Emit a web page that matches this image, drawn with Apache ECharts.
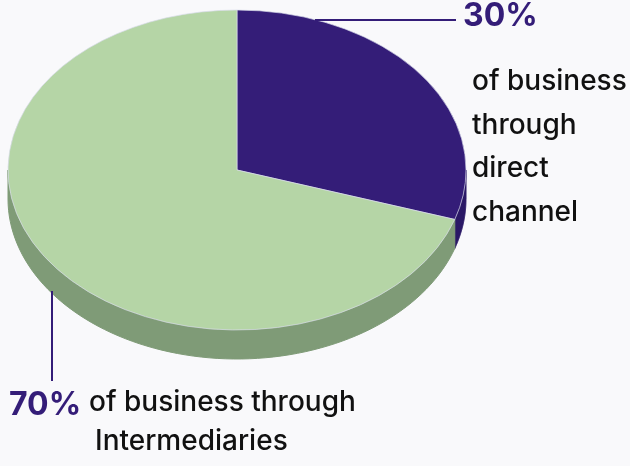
<!DOCTYPE html>
<html>
<head>
<meta charset="utf-8">
<script src="https://cdn.jsdelivr.net/npm/echarts@6/dist/echarts.min.js"></script>
<style>
  html, body { margin: 0; padding: 0; background: #f9f9fb; }
  #chart { width: 630px; height: 466px; }
</style>
</head>
<body>
<div id="chart"></div>
<script>
// data
const categories = ['Direct channel', 'Intermediaries']
const values = [30, 70]
const labels = ['of business\nthrough\ndirect\nchannel', 'of business through\nIntermediaries']
const topColors = ['#341d78', '#b5d5a6']
const sideColors = ['#2a1866', '#7f9b77']

// pie geometry (ellipse)
const cx = 237
const cy = 170
const rx = 229
const ry = 160
const depth = 29

const total = values.reduce((a, b) => a + b, 0)
// start / end angles (canvas radians, clockwise from 12 o'clock)
const angleOf = (i) => {
  let before = 0
  for (let k = 0; k < i; k++) before += values[k]
  const a0 = -Math.PI / 2 + (before / total) * Math.PI * 2
  const a1 = a0 + (values[i] / total) * Math.PI * 2
  return [a0, a1]
}

const sideItem = (params, api) => {
  const i = params.dataIndex
  const [a0, a1] = angleOf(i)
  // only the front half (0..PI) is visible
  const s = Math.max(a0, 0)
  const e = Math.min(a1, Math.PI)
  if (e <= s) return null
  const pts = []
  const n = 80
  for (let k = 0; k <= n; k++) {
    const a = s + ((e - s) * k) / n
    pts.push([cx + rx * Math.cos(a), cy + ry * Math.sin(a)])
  }
  for (let k = n; k >= 0; k--) {
    const a = s + ((e - s) * k) / n
    pts.push([cx + rx * Math.cos(a), cy + depth + ry * Math.sin(a)])
  }
  return {
    type: 'polygon',
    shape: { points: pts },
    style: { fill: sideColors[i], stroke: sideColors[i], lineWidth: 1 }
  }
}

const topItem = (params, api) => {
  const i = params.dataIndex
  const [a0, a1] = angleOf(i)
  return {
    type: 'sector',
    x: cx,
    y: cy,
    scaleY: ry / rx,
    shape: { cx: 0, cy: 0, r0: 0, r: rx, startAngle: a0, endAngle: a1, clockwise: true },
    style: { fill: topColors[i], stroke: '#d9dcea', lineWidth: 0.8 }
  }
}

const chart = echarts.init(document.getElementById('chart'))
const font = 'Inter, "Noto Sans", sans-serif'
const bottomLines = labels[1].split('\n')
const option = {
  backgroundColor: '#f9f9fb',
  animation: false,
  series: [
    {
      type: 'custom',
      coordinateSystem: 'none',
      renderItem: sideItem,
      data: values,
      z: 1
    },
    {
      type: 'custom',
      coordinateSystem: 'none',
      renderItem: topItem,
      data: values,
      z: 2
    }
  ],
  graphic: [
    // leader lines
    { type: 'line', shape: { x1: 315, y1: 20, x2: 456, y2: 20 }, style: { stroke: '#341d78', lineWidth: 2 }, z: 10 },
    { type: 'line', shape: { x1: 52, y1: 291, x2: 52, y2: 381 }, style: { stroke: '#341d78', lineWidth: 2 }, z: 10 },
    // 30% label
    {
      type: 'text', x: 463, y: 32, z: 10,
      style: { text: values[0] + '%', font: 'bold 32px ' + font, fill: '#341d78', textVerticalAlign: 'bottom' }
    },
    {
      type: 'text', x: 472, y: 60, z: 10,
      style: { text: labels[0], font: '500 28px ' + font, fill: '#111', lineHeight: 43.5 }
    },
    // 70% label
    {
      type: 'text', x: 9, y: 421, z: 10,
      style: { text: values[1] + '%', font: 'bold 32px ' + font, fill: '#341d78', textVerticalAlign: 'bottom' }
    },
    {
      type: 'text', x: 89, y: 389, z: 10,
      style: { text: bottomLines[0], font: '500 28px ' + font, fill: '#111' }
    },
    {
      type: 'text', x: 95, y: 428, z: 10,
      style: { text: bottomLines[1], font: '500 28px ' + font, fill: '#111' }
    }
  ]
}
chart.setOption(option)
</script>
</body>
</html>
